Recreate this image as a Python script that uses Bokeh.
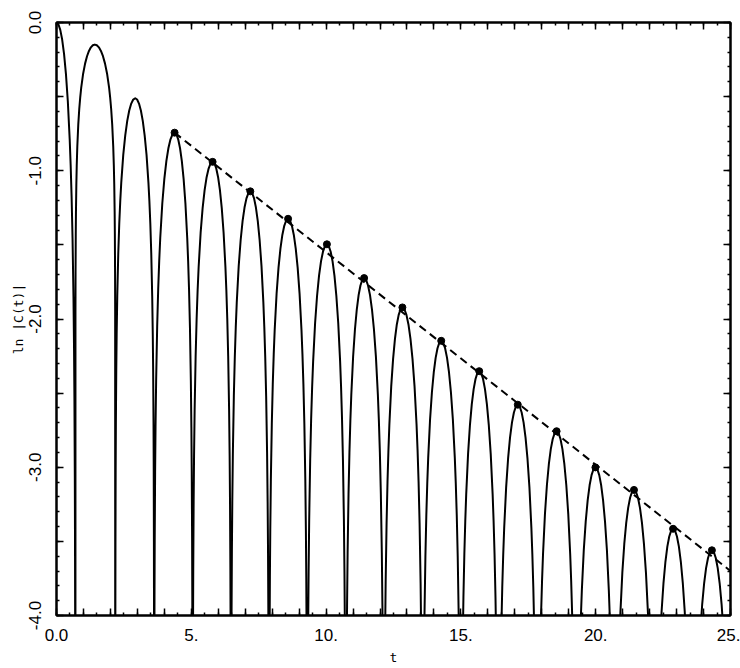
from bokeh.plotting import figure
from bokeh.models import Range1d, LinearAxis, FixedTicker
from bokeh.embed import file_html
from bokeh.resources import INLINE

# ---------------- values ----------------
# maxima of the arches of ln|C(t)| (first one is the start of the curve)
peak_t = [0.0, 1.42, 2.92, 4.38, 5.79, 7.19, 8.59, 10.03, 11.41, 12.83,
          14.27, 15.68, 17.11, 18.55, 19.99, 21.42, 22.87, 24.31]
peak_y = [0.0, -0.149, -0.511, -0.743, -0.940, -1.139, -1.324, -1.496, -1.724, -1.922,
          -2.147, -2.352, -2.578, -2.757, -3.001, -3.153, -3.415, -3.560]
# zeros of C(t) (where ln|C| plunges below the frame)
zero_t = [0.70, 2.18, 3.62, 5.05, 6.47, 7.88, 9.30, 10.73, 12.14, 13.58,
          14.99, 16.39, 17.83, 19.27, 20.70, 22.16, 23.59, 25.03]
# how sharply each arch falls away from its maximum (estimated per arch)
arch_sharp = [1.0, 0.37, 0.72, 0.9, 0.9, 0.95, 0.95, 1.0, 1.0, 1.0,
              1.0, 1.05, 1.05, 1.05, 1.05, 1.05, 1.05, 1.05]
# arch profile: fraction of the way from maximum to zero, and fall of ln|C|
profile_f = [0.0, 0.1, 0.2, 0.3, 0.4, 0.5, 0.6, 0.7, 0.75, 0.8, 0.85, 0.9,
             0.93, 0.95, 0.97, 0.98, 0.99, 0.995, 1.0]
profile_drop = [0.0, -0.012, -0.050, -0.115, -0.212, -0.347, -0.531, -0.790, -0.961,
                -1.174, -1.455, -1.855, -2.210, -2.545, -3.056, -3.461, -4.154, -4.848, -40.0]

# marked maxima and the dashed envelope line
dot_t = peak_t[3:]
dot_y = peak_y[3:]
fit_t = [4.38, 25.0]
fit_y = [-0.743, -3.70]

# ticks
x_major = list(range(0, 26))
x_minor = [0.5 * i for i in range(51)]
x_label_at = [0, 5, 10, 15, 20, 25]
x_label_txt = ["0.0", "5.", "10.", "15.", "20.", "25."]
y_major = [0.0, -0.5, -1.0, -1.5, -2.0, -2.5, -3.0, -3.5, -4.0]
y_minor = [-0.1 * i for i in range(41)]
y_label_at = [0.0, -1.0, -2.0, -3.0, -4.0]
y_label_txt = ["0.0", "-1.0", "-2.0", "-3.0", "-4.0"]

# ---------------- build the curve from the arches ----------------
curve_t, curve_y = [], []
for k, (tp, yp, pk) in enumerate(zip(peak_t, peak_y, arch_sharp)):
    zr = zero_t[k]
    start = 0
    if k > 0:
        zl = zero_t[k - 1]
        for f, d in zip(profile_f[::-1], profile_drop[::-1]):
            curve_t.append(tp - (tp - zl) * f)
            curve_y.append(yp + pk * d)
        start = 1
    for f, d in zip(profile_f[start:], profile_drop[start:]):
        curve_t.append(tp + (zr - tp) * f)
        curve_y.append(yp + pk * d)

FONT = "Liberation Sans"
MONO = "DejaVu Sans Mono"

p = figure(width=740, height=668, output_backend="svg", toolbar_location=None,
           x_range=Range1d(0, 25), y_range=Range1d(-4, 0),
           min_border_left=56, min_border_right=10, min_border_top=22, min_border_bottom=53,
           background_fill_color="white", border_fill_color="white")
p.xgrid.visible = False
p.ygrid.visible = False
p.outline_line_color = "black"
p.outline_line_width = 2


def style(ax, major, minor, overrides, labelled):
    ax.ticker = FixedTicker(ticks=major, minor_ticks=minor)
    ax.axis_line_color = "black"
    ax.axis_line_width = 2
    ax.major_tick_in = 7
    ax.major_tick_out = 0
    ax.minor_tick_in = 3
    ax.minor_tick_out = 0
    ax.major_tick_line_color = "black"
    ax.minor_tick_line_color = "black"
    ax.major_tick_line_width = 1.5
    ax.minor_tick_line_width = 1.5
    ax.major_label_overrides = overrides
    if labelled:
        ax.major_label_text_font = FONT
        ax.major_label_text_font_size = "17px"
        ax.major_label_text_color = "black"
    else:
        ax.major_label_text_font_size = "0px"
        ax.major_label_standoff = 0


x_over = {t: "" for t in x_major}
for t, s in zip(x_label_at, x_label_txt):
    x_over[t] = s
y_over = {v: "" for v in y_major}
for v, s in zip(y_label_at, y_label_txt):
    y_over[v] = s
blank_x = {t: "" for t in x_major}
blank_y = {v: "" for v in y_major}

xb = p.below[0]
style(xb, x_major, x_minor, x_over, True)
xb.major_label_standoff = 13
xb.axis_label = "t"
xb.axis_label_text_font = MONO
xb.axis_label_text_font_size = "13px"
xb.axis_label_text_font_style = "normal"
xb.axis_label_text_color = "black"
xb.axis_label_standoff = 6

yl = p.left[0]
style(yl, y_major, y_minor, y_over, True)
yl.major_label_orientation = "vertical"
yl.major_label_standoff = 16
yl.axis_label = "ln |C(t)|"
yl.axis_label_text_font = MONO
yl.axis_label_text_font_size = "13px"
yl.axis_label_text_font_style = "normal"
yl.axis_label_text_color = "black"
yl.axis_label_standoff = 0

xt = LinearAxis()
style(xt, x_major, x_minor, blank_x, False)
p.add_layout(xt, "above")
yr = LinearAxis()
style(yr, y_major, y_minor, blank_y, False)
p.add_layout(yr, "right")

p.line(curve_t, curve_y, line_color="black", line_width=2, line_join="round")
p.line(fit_t, fit_y, line_color="black", line_width=2, line_dash="8 5")
p.scatter(dot_t, dot_y, size=7, color="black")

open("out.html", "w").write(file_html(p, INLINE))
